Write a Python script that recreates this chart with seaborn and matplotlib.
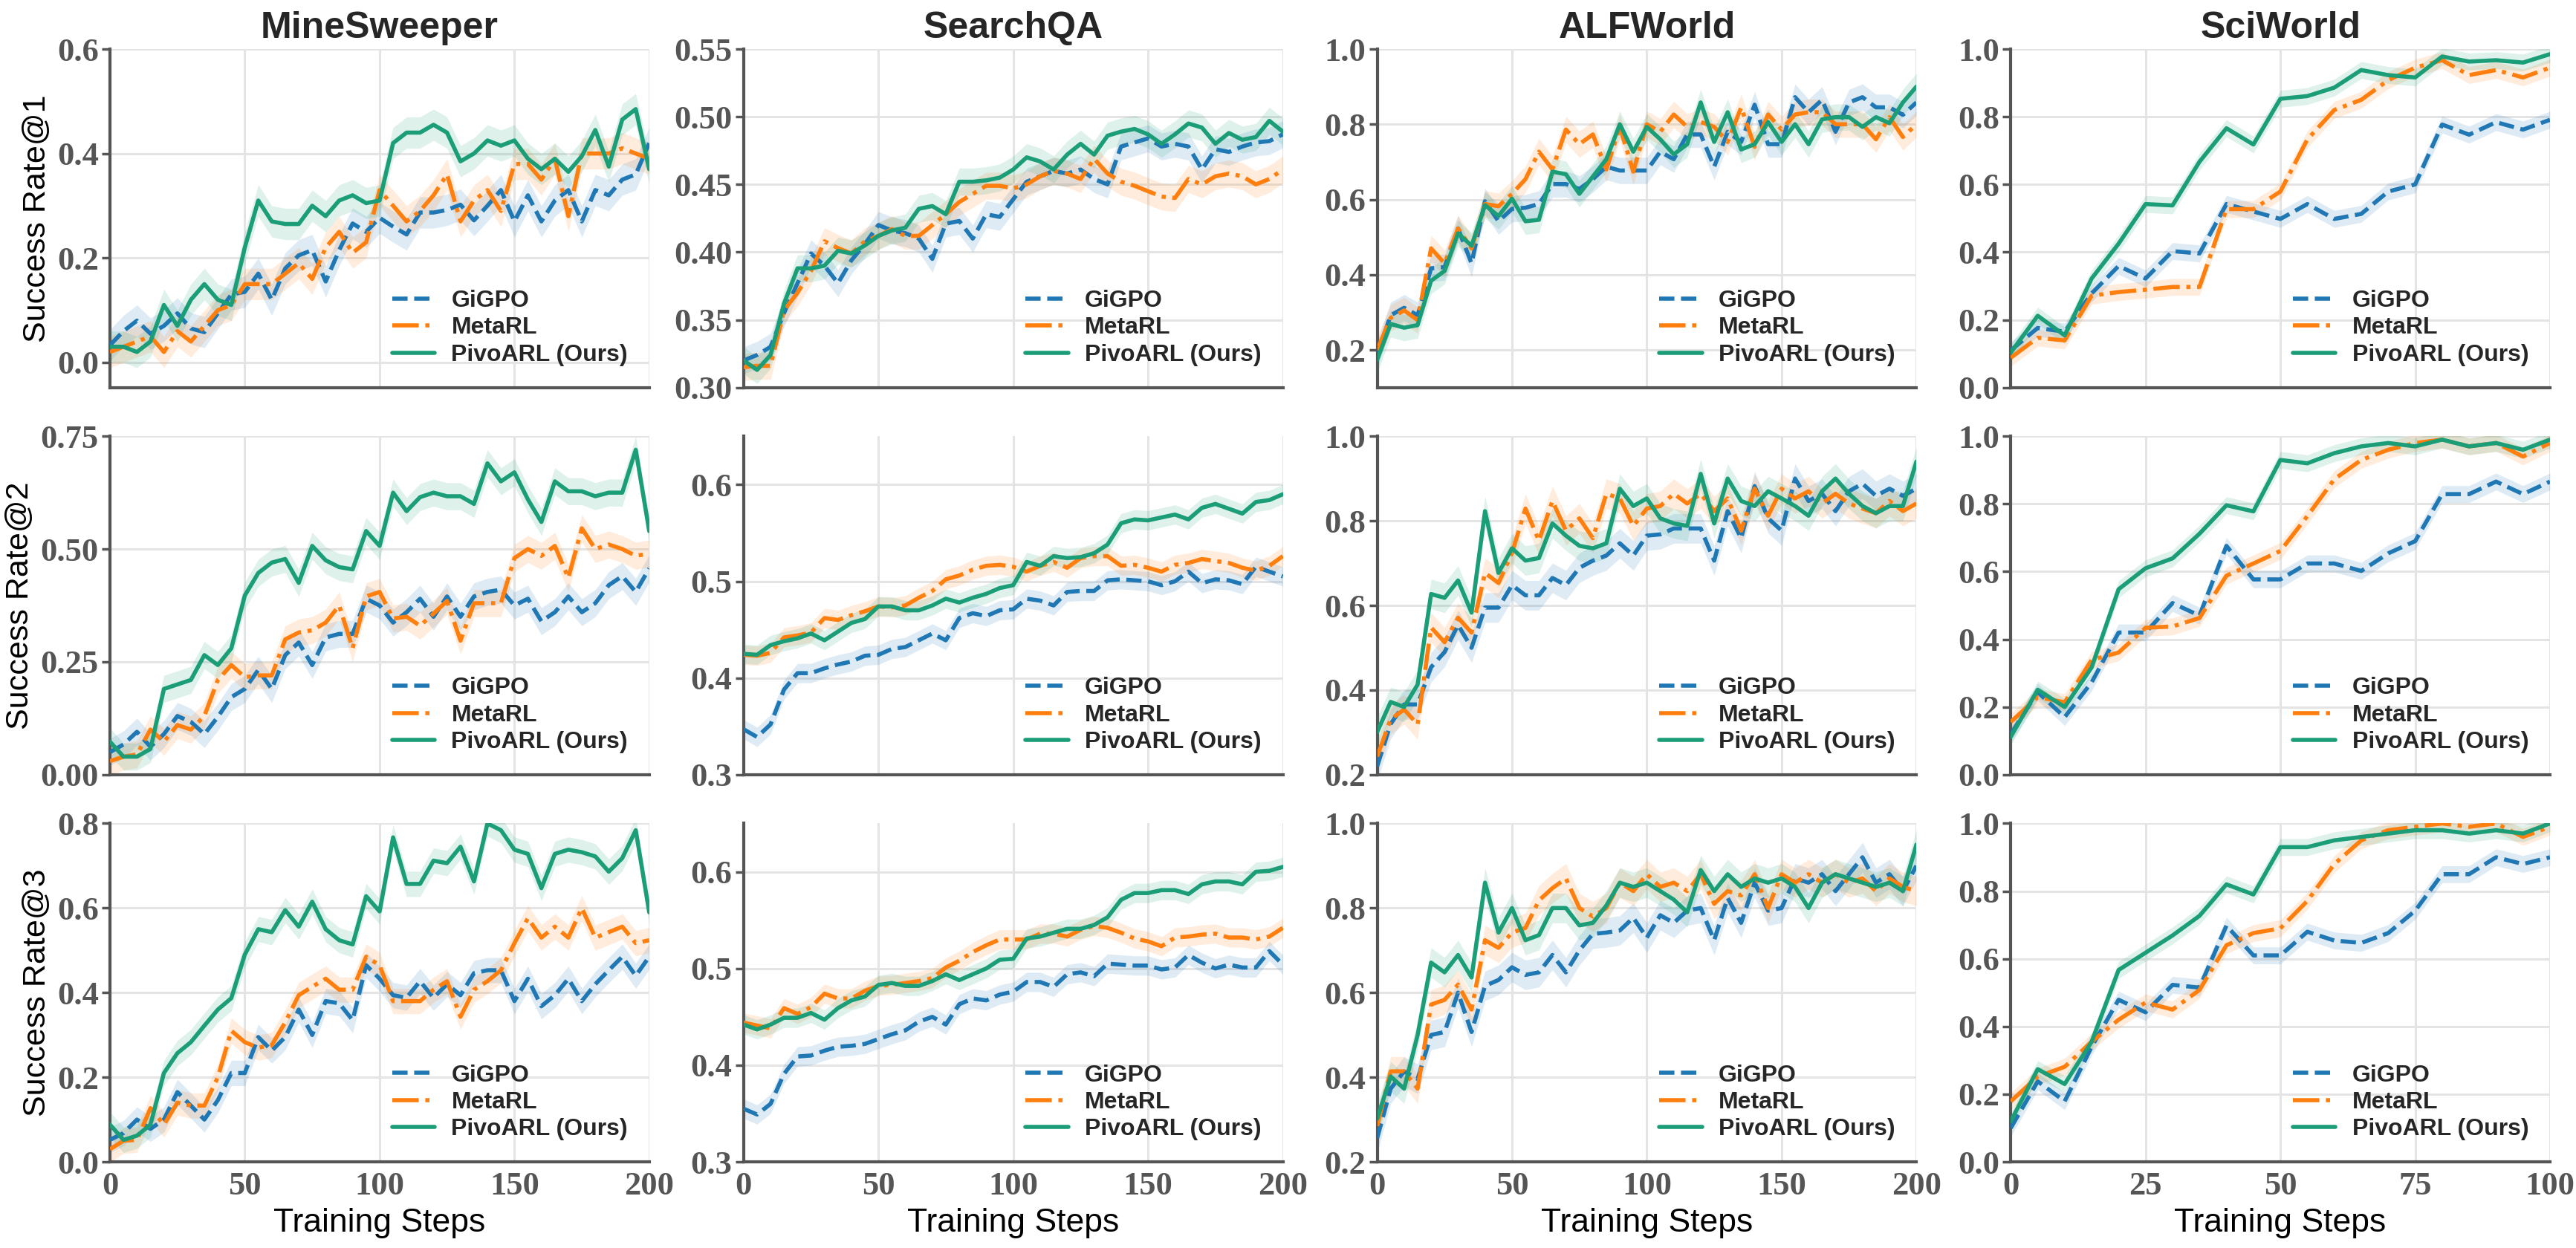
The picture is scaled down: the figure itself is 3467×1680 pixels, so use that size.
import numpy as np
import pandas as pd
import matplotlib
matplotlib.use("Agg")
import matplotlib.pyplot as plt
from matplotlib.font_manager import FontProperties
import seaborn as sns

sns.set_theme(style="whitegrid")
plt.rcParams['font.family'] = ['Liberation Sans', 'DejaVu Sans']

# ---------------- data ----------------
steps_200 = list(range(0, 201, 5))
steps_100 = list(range(0, 101, 5))

methods = ['GiGPO', 'MetaRL', 'PivoARL (Ours)']
envs = ['MineSweeper', 'SearchQA', 'ALFWorld', 'SciWorld']
row_labels = ['Success Rate@1', 'Success Rate@2', 'Success Rate@3']

# MineSweeper
ms1_gigpo = [0.033,0.06,0.08,0.055,0.07,0.094,0.065,0.058,0.094,0.13,0.135,0.17,0.12,0.18,0.205,0.215,0.155,0.215,0.266,0.25,0.277,0.26,0.245,0.287,0.287,0.292,0.302,0.272,0.30,0.33,0.27,0.32,0.27,0.31,0.33,0.27,0.33,0.32,0.35,0.36,0.42]
ms1_metarl = [0.02,0.03,0.04,0.05,0.02,0.06,0.04,0.07,0.10,0.11,0.15,0.15,0.15,0.17,0.19,0.16,0.22,0.25,0.21,0.23,0.33,0.30,0.27,0.29,0.32,0.36,0.27,0.31,0.33,0.29,0.38,0.38,0.35,0.39,0.28,0.40,0.40,0.40,0.41,0.40,0.39]
ms1_pivo = [0.03,0.03,0.02,0.04,0.11,0.07,0.12,0.15,0.12,0.11,0.22,0.31,0.27,0.265,0.265,0.30,0.28,0.31,0.32,0.305,0.31,0.42,0.44,0.44,0.455,0.44,0.385,0.40,0.425,0.415,0.425,0.39,0.37,0.39,0.365,0.395,0.445,0.375,0.465,0.485,0.37]

ms2_gigpo = [0.05,0.067,0.095,0.062,0.09,0.13,0.117,0.09,0.128,0.172,0.19,0.232,0.19,0.265,0.293,0.243,0.304,0.312,0.312,0.39,0.375,0.337,0.36,0.39,0.35,0.395,0.35,0.395,0.405,0.41,0.375,0.39,0.34,0.36,0.395,0.36,0.38,0.42,0.44,0.405,0.457]
ms2_metarl = [0.03,0.04,0.045,0.10,0.073,0.11,0.10,0.13,0.21,0.243,0.216,0.22,0.22,0.30,0.315,0.32,0.337,0.375,0.28,0.395,0.405,0.346,0.35,0.33,0.357,0.385,0.297,0.38,0.38,0.38,0.48,0.50,0.485,0.507,0.436,0.546,0.50,0.51,0.50,0.485,0.49]
ms2_pivo = [0.073,0.04,0.04,0.057,0.19,0.20,0.21,0.265,0.243,0.28,0.397,0.447,0.47,0.478,0.425,0.507,0.475,0.46,0.455,0.54,0.507,0.625,0.584,0.615,0.625,0.617,0.617,0.60,0.69,0.65,0.67,0.61,0.56,0.65,0.628,0.628,0.617,0.625,0.625,0.72,0.54]

ms3_gigpo = [0.052,0.068,0.10,0.078,0.10,0.165,0.133,0.10,0.146,0.21,0.21,0.295,0.263,0.295,0.36,0.30,0.38,0.375,0.335,0.465,0.433,0.394,0.388,0.427,0.388,0.42,0.394,0.446,0.453,0.453,0.38,0.433,0.368,0.394,0.433,0.38,0.42,0.453,0.485,0.44,0.485]
ms3_metarl = [0.03,0.05,0.052,0.127,0.088,0.14,0.133,0.133,0.20,0.31,0.283,0.27,0.276,0.33,0.394,0.414,0.433,0.407,0.407,0.485,0.465,0.38,0.38,0.38,0.407,0.427,0.343,0.407,0.427,0.453,0.517,0.576,0.53,0.556,0.53,0.60,0.53,0.543,0.556,0.517,0.524]
ms3_pivo = [0.088,0.052,0.062,0.088,0.21,0.257,0.283,0.322,0.36,0.387,0.49,0.55,0.543,0.595,0.556,0.615,0.55,0.524,0.514,0.628,0.592,0.767,0.657,0.657,0.712,0.706,0.745,0.663,0.80,0.784,0.738,0.728,0.647,0.728,0.738,0.732,0.722,0.686,0.718,0.784,0.59]

# SearchQA
sq1_gigpo = [0.32,0.324,0.33,0.355,0.377,0.399,0.39,0.377,0.394,0.406,0.42,0.416,0.414,0.41,0.395,0.421,0.423,0.41,0.428,0.426,0.439,0.452,0.456,0.46,0.458,0.461,0.454,0.45,0.478,0.481,0.484,0.478,0.48,0.478,0.461,0.476,0.474,0.478,0.481,0.482,0.487]
sq1_metarl = [0.315,0.316,0.316,0.357,0.37,0.386,0.408,0.403,0.399,0.408,0.412,0.417,0.412,0.412,0.42,0.428,0.437,0.443,0.449,0.449,0.447,0.45,0.456,0.46,0.458,0.454,0.469,0.458,0.452,0.449,0.445,0.441,0.44,0.454,0.45,0.456,0.458,0.456,0.45,0.454,0.461]
sq1_pivo = [0.32,0.313,0.324,0.362,0.388,0.388,0.39,0.401,0.399,0.405,0.412,0.416,0.418,0.432,0.434,0.428,0.452,0.452,0.453,0.455,0.461,0.47,0.467,0.461,0.472,0.48,0.472,0.486,0.489,0.491,0.487,0.48,0.487,0.495,0.492,0.48,0.488,0.483,0.485,0.497,0.489]

sq2_gigpo = [0.347,0.339,0.352,0.388,0.405,0.405,0.41,0.414,0.417,0.423,0.424,0.43,0.432,0.439,0.446,0.439,0.462,0.467,0.464,0.47,0.471,0.482,0.48,0.475,0.489,0.49,0.49,0.501,0.502,0.501,0.50,0.496,0.50,0.51,0.498,0.502,0.501,0.497,0.515,0.51,0.505]
sq2_metarl = [0.424,0.423,0.426,0.442,0.444,0.447,0.462,0.46,0.465,0.469,0.474,0.473,0.475,0.483,0.49,0.502,0.506,0.512,0.516,0.517,0.515,0.51,0.516,0.52,0.514,0.524,0.526,0.526,0.516,0.517,0.514,0.51,0.517,0.519,0.523,0.521,0.519,0.514,0.511,0.516,0.526]
sq2_pivo = [0.425,0.424,0.434,0.438,0.441,0.446,0.439,0.448,0.457,0.461,0.474,0.474,0.47,0.47,0.475,0.482,0.478,0.483,0.487,0.493,0.496,0.52,0.516,0.526,0.524,0.525,0.529,0.538,0.56,0.564,0.563,0.566,0.569,0.564,0.576,0.58,0.575,0.57,0.582,0.584,0.59]

sq3_gigpo = [0.355,0.349,0.36,0.391,0.409,0.41,0.415,0.419,0.42,0.422,0.427,0.432,0.436,0.445,0.45,0.442,0.463,0.469,0.467,0.473,0.476,0.486,0.486,0.481,0.494,0.496,0.492,0.505,0.504,0.503,0.503,0.499,0.501,0.514,0.506,0.50,0.504,0.501,0.501,0.518,0.504]
sq3_metarl = [0.444,0.441,0.438,0.459,0.453,0.46,0.474,0.469,0.469,0.477,0.482,0.483,0.485,0.487,0.49,0.501,0.508,0.517,0.524,0.53,0.53,0.53,0.536,0.536,0.533,0.54,0.544,0.542,0.537,0.531,0.528,0.523,0.532,0.533,0.535,0.536,0.532,0.532,0.53,0.533,0.542]
sq3_pivo = [0.442,0.437,0.442,0.449,0.449,0.454,0.447,0.459,0.467,0.471,0.483,0.485,0.482,0.482,0.487,0.494,0.488,0.494,0.50,0.509,0.51,0.531,0.533,0.537,0.541,0.541,0.545,0.553,0.571,0.578,0.578,0.581,0.581,0.577,0.587,0.59,0.59,0.587,0.60,0.601,0.605]

# ALFWorld
alf1_gigpo = [0.187,0.292,0.312,0.292,0.417,0.42,0.523,0.43,0.595,0.542,0.575,0.578,0.588,0.641,0.641,0.628,0.654,0.687,0.677,0.677,0.677,0.727,0.707,0.773,0.773,0.687,0.78,0.753,0.852,0.747,0.747,0.872,0.832,0.865,0.78,0.858,0.872,0.845,0.845,0.825,0.858]
alf1_metarl = [0.20,0.285,0.305,0.279,0.47,0.43,0.523,0.47,0.588,0.582,0.615,0.654,0.727,0.68,0.786,0.747,0.773,0.68,0.793,0.674,0.80,0.78,0.826,0.793,0.806,0.793,0.753,0.845,0.74,0.826,0.786,0.826,0.832,0.832,0.80,0.80,0.80,0.76,0.819,0.766,0.80]
alf1_pivo = [0.174,0.269,0.259,0.266,0.384,0.41,0.51,0.477,0.585,0.556,0.602,0.542,0.546,0.674,0.667,0.615,0.661,0.707,0.80,0.727,0.793,0.76,0.72,0.747,0.858,0.753,0.832,0.733,0.747,0.806,0.753,0.80,0.747,0.813,0.819,0.819,0.793,0.819,0.803,0.858,0.90]

alf2_gigpo = [0.22,0.32,0.366,0.366,0.454,0.49,0.554,0.50,0.595,0.595,0.648,0.624,0.624,0.665,0.648,0.689,0.706,0.718,0.747,0.718,0.765,0.768,0.782,0.782,0.782,0.706,0.823,0.759,0.882,0.806,0.777,0.90,0.847,0.864,0.823,0.87,0.888,0.859,0.876,0.859,0.876]
alf2_metarl = [0.243,0.331,0.354,0.319,0.548,0.513,0.571,0.536,0.677,0.653,0.724,0.829,0.753,0.847,0.777,0.806,0.759,0.864,0.853,0.788,0.829,0.835,0.864,0.841,0.864,0.823,0.853,0.777,0.876,0.812,0.876,0.853,0.87,0.841,0.864,0.841,0.829,0.818,0.847,0.823,0.841]
alf2_pivo = [0.301,0.372,0.36,0.413,0.627,0.618,0.659,0.583,0.823,0.677,0.735,0.706,0.712,0.794,0.765,0.741,0.735,0.747,0.876,0.835,0.853,0.806,0.794,0.788,0.911,0.794,0.90,0.847,0.835,0.87,0.853,0.835,0.812,0.87,0.90,0.864,0.835,0.818,0.835,0.835,0.94]

alf3_gigpo = [0.256,0.373,0.414,0.396,0.50,0.507,0.60,0.507,0.616,0.63,0.66,0.642,0.648,0.689,0.648,0.70,0.739,0.742,0.747,0.777,0.73,0.783,0.765,0.794,0.80,0.724,0.824,0.765,0.86,0.794,0.80,0.87,0.86,0.88,0.84,0.88,0.92,0.86,0.88,0.84,0.90]
alf3_metarl = [0.285,0.414,0.414,0.373,0.572,0.583,0.619,0.56,0.724,0.706,0.742,0.753,0.818,0.847,0.87,0.80,0.78,0.80,0.86,0.84,0.88,0.85,0.86,0.84,0.88,0.81,0.84,0.83,0.88,0.80,0.88,0.86,0.88,0.86,0.88,0.86,0.87,0.84,0.87,0.85,0.84]
alf3_pivo = [0.302,0.402,0.373,0.50,0.671,0.648,0.689,0.636,0.86,0.742,0.80,0.724,0.736,0.80,0.80,0.759,0.765,0.806,0.86,0.85,0.86,0.84,0.82,0.79,0.89,0.84,0.88,0.85,0.87,0.86,0.87,0.85,0.80,0.86,0.88,0.87,0.86,0.85,0.86,0.84,0.95]

# SciWorld
sci1_gigpo = [0.11,0.176,0.165,0.278,0.359,0.322,0.403,0.396,0.542,0.52,0.498,0.542,0.498,0.513,0.579,0.60,0.777,0.747,0.784,0.762,0.791]
sci1_metarl = [0.088,0.147,0.139,0.271,0.282,0.289,0.297,0.297,0.527,0.527,0.579,0.733,0.82,0.85,0.908,0.945,0.967,0.923,0.938,0.916,0.945]
sci1_pivo = [0.103,0.212,0.154,0.322,0.425,0.542,0.538,0.667,0.766,0.718,0.853,0.861,0.886,0.938,0.923,0.916,0.978,0.963,0.967,0.96,0.985]

sci2_gigpo = [0.12,0.244,0.17,0.273,0.42,0.42,0.507,0.47,0.676,0.577,0.577,0.624,0.624,0.602,0.654,0.69,0.829,0.829,0.866,0.829,0.866]
sci2_metarl = [0.156,0.229,0.214,0.339,0.361,0.434,0.438,0.463,0.588,0.624,0.661,0.764,0.873,0.93,0.96,0.98,0.99,0.97,0.98,0.94,0.98]
sci2_pivo = [0.112,0.251,0.20,0.317,0.548,0.61,0.639,0.712,0.796,0.778,0.93,0.92,0.95,0.97,0.98,0.97,0.99,0.97,0.98,0.96,0.99]

sci3_gigpo = [0.10,0.238,0.179,0.34,0.479,0.442,0.523,0.515,0.698,0.61,0.61,0.68,0.654,0.647,0.676,0.742,0.85,0.85,0.90,0.88,0.90]
sci3_metarl = [0.179,0.252,0.281,0.355,0.42,0.471,0.45,0.508,0.64,0.676,0.69,0.771,0.88,0.95,0.98,0.99,1.0,0.99,1.0,0.96,0.99]
sci3_pivo = [0.12,0.274,0.23,0.355,0.567,0.618,0.669,0.727,0.82,0.79,0.93,0.93,0.95,0.96,0.97,0.98,0.98,0.97,0.98,0.97,1.0]

# shaded band half-width (std) per environment
band_halfwidth = [0.03, 0.01, 0.035, 0.025]

# y-axis ticks per panel
yticks = [
    [[0.0, 0.2, 0.4, 0.6], [0.30, 0.35, 0.40, 0.45, 0.50, 0.55], [0.2, 0.4, 0.6, 0.8, 1.0], [0.0, 0.2, 0.4, 0.6, 0.8, 1.0]],
    [[0.0, 0.25, 0.5, 0.75], [0.3, 0.4, 0.5, 0.6], [0.2, 0.4, 0.6, 0.8, 1.0], [0.0, 0.2, 0.4, 0.6, 0.8, 1.0]],
    [[0.0, 0.2, 0.4, 0.6, 0.8], [0.3, 0.4, 0.5, 0.6], [0.2, 0.4, 0.6, 0.8, 1.0], [0.0, 0.2, 0.4, 0.6, 0.8, 1.0]],
]
ytick_labels = [
    [['0.0', '0.2', '0.4', '0.6'], ['0.30', '0.35', '0.40', '0.45', '0.50', '0.55'], ['0.2', '0.4', '0.6', '0.8', '1.0'], ['0.0', '0.2', '0.4', '0.6', '0.8', '1.0']],
    [['0.00', '0.25', '0.50', '0.75'], ['0.3', '0.4', '0.5', '0.6'], ['0.2', '0.4', '0.6', '0.8', '1.0'], ['0.0', '0.2', '0.4', '0.6', '0.8', '1.0']],
    [['0.0', '0.2', '0.4', '0.6', '0.8'], ['0.3', '0.4', '0.5', '0.6'], ['0.2', '0.4', '0.6', '0.8', '1.0'], ['0.0', '0.2', '0.4', '0.6', '0.8', '1.0']],
]
ylims = [
    [(-0.048, 0.6), (0.30, 0.55), (0.10, 1.0), (0.0, 1.0)],
    [(0.0, 0.75), (0.30, 0.65), (0.2, 1.0), (0.0, 1.0)],
    [(0.0, 0.8), (0.30, 0.65), (0.2, 1.0), (0.0, 1.0)],
]
xticks_200 = [0, 50, 100, 150, 200]
xticks_100 = [0, 25, 50, 75, 100]

panels = [
    [(ms1_gigpo, ms1_metarl, ms1_pivo), (sq1_gigpo, sq1_metarl, sq1_pivo), (alf1_gigpo, alf1_metarl, alf1_pivo), (sci1_gigpo, sci1_metarl, sci1_pivo)],
    [(ms2_gigpo, ms2_metarl, ms2_pivo), (sq2_gigpo, sq2_metarl, sq2_pivo), (alf2_gigpo, alf2_metarl, alf2_pivo), (sci2_gigpo, sci2_metarl, sci2_pivo)],
    [(ms3_gigpo, ms3_metarl, ms3_pivo), (sq3_gigpo, sq3_metarl, sq3_pivo), (alf3_gigpo, alf3_metarl, alf3_pivo), (sci3_gigpo, sci3_metarl, sci3_pivo)],
]

# ---------------- style ----------------
colors = ['#1f77b4', '#ff7f0e', '#1b9e77']
linestyles = ['--', '-.', '-']
spine_color = '#555555'
tick_font = dict(family='Liberation Serif', weight='bold', size=32)
legend_font = FontProperties(family='Liberation Sans', weight='bold', size=23)

fig, axes = plt.subplots(3, 4, figsize=(34.67, 16.8), dpi=100)
fig.subplots_adjust(left=0.0427, right=0.9899, bottom=0.069, top=0.9607,
                    wspace=0.175, hspace=0.144)

for r in range(3):
    for c in range(4):
        ax = axes[r, c]
        x = steps_100 if c == 3 else steps_200
        for k, vals in enumerate(panels[r][c]):
            df = pd.DataFrame({'step': x, 'rate': vals})
            v = np.asarray(vals)
            ax.fill_between(x, v - band_halfwidth[c], v + band_halfwidth[c],
                            color=colors[k], alpha=0.14, linewidth=0, zorder=1 + k)
            sns.lineplot(data=df, x='step', y='rate', ax=ax, color=colors[k],
                         linestyle=linestyles[k], linewidth=4.0, label=methods[k],
                         legend=False, zorder=4 + k)

        ax.set_xlim(x[0], x[-1])
        ax.set_ylim(*ylims[r][c])
        xt = xticks_100 if c == 3 else xticks_200
        if r == 2:
            ax.set_xticks(xt, labels=[str(t) for t in xt], fontproperties=FontProperties(**tick_font))
            ax.set_xlabel('Training Steps', fontsize=32, color='black', va='top')
            ax.xaxis.set_label_coords(0.5, -0.135)
            ax.tick_params(axis='x', length=7, width=2.5, color=spine_color,
                           labelcolor=spine_color, pad=2)
        else:
            ax.set_xticks(xt, labels=[])
            ax.set_xlabel('')
            ax.tick_params(axis='x', length=0)
        ax.set_yticks(yticks[r][c], labels=ytick_labels[r][c], fontproperties=FontProperties(**tick_font))
        ax.tick_params(axis='y', length=8, width=2.5, color=spine_color,
                       labelcolor=spine_color, pad=3, left=True)

        if c == 0:
            ax.set_ylabel(row_labels[r], fontsize=31, color='black', labelpad=5)
        else:
            ax.set_ylabel('')
        if r == 0:
            ax.set_title(envs[c], fontsize=36, fontweight='bold', pad=11)

        ax.grid(True, color='#e4e4e4', linewidth=2.2)
        ax.set_axisbelow(True)
        for side in ['top', 'right']:
            ax.spines[side].set_visible(False)
        for side in ['left', 'bottom']:
            ax.spines[side].set_color(spine_color)
            ax.spines[side].set_linewidth(3)

        ax.legend(loc='lower right', frameon=False, prop=legend_font,
                  handlelength=1.8, handletextpad=0.7, labelspacing=0.2,
                  borderaxespad=0.5)

fig.savefig('out.png', dpi=100)
